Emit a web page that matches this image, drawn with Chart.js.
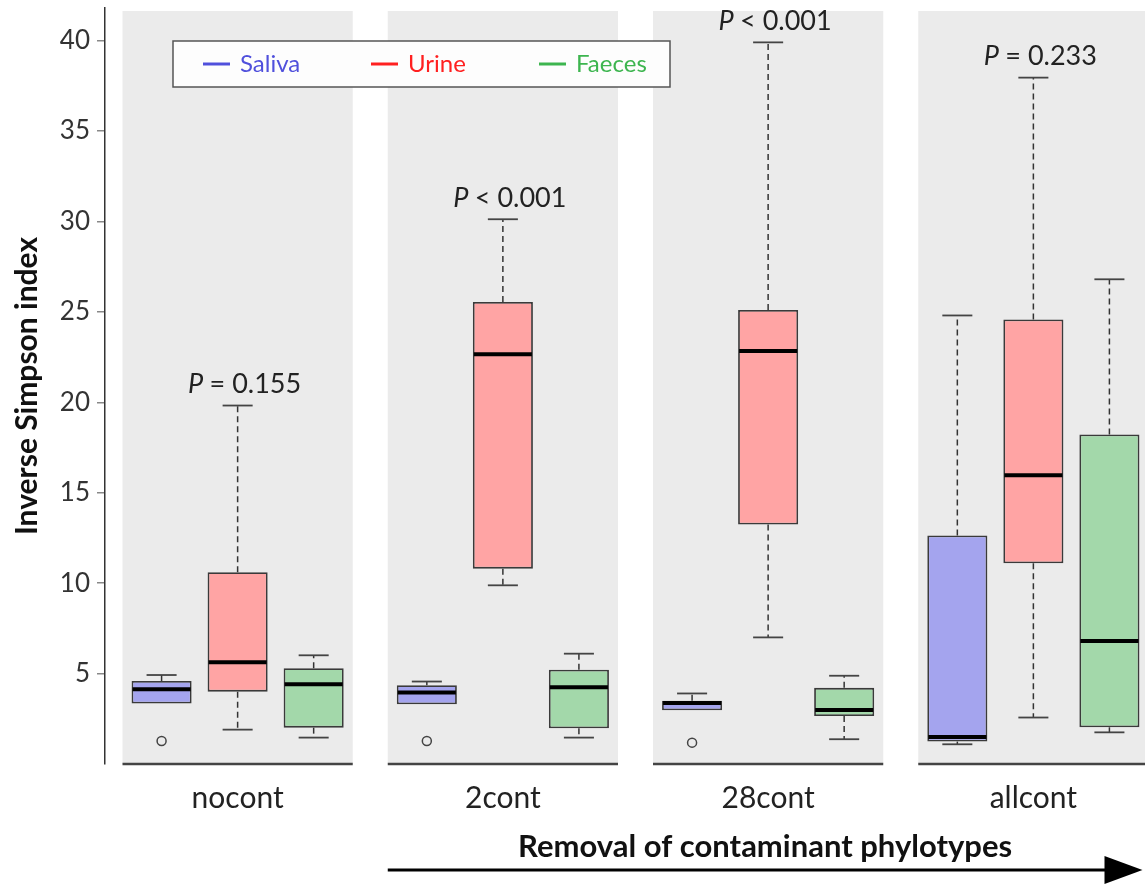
<!DOCTYPE html>
<html>
<head>
<meta charset="utf-8">
<script src="https://cdn.jsdelivr.net/npm/chart.js@4.4.0/dist/chart.umd.min.js"></script>
<style>
  html, body { margin: 0; padding: 0; background: #fff; overflow: hidden; }
  #wrap { position: absolute; left: 0; top: 0; width: 1166px; height: 886px; }
</style>
</head>
<body>
<div id="wrap"><canvas id="chart" width="1166" height="886"></canvas></div>
<script>
// categories and tick labels
const categories = ['nocont', '2cont', '28cont', 'allcont'];
const yTicks = [5, 10, 15, 20, 25, 30, 35, 40];
const pLabels = ['= 0.155', '< 0.001', '< 0.001', '= 0.233'];

// Saliva
const salivaMin = [3.34, 3.3, 2.97, 1.09];
const salivaQ1 = [3.34, 3.3, 2.97, 1.24];
const salivaMed = [4.13, 3.95, 3.37, 1.49];
const salivaQ3 = [4.59, 4.36, 3.5, 12.63];
const salivaMax = [4.92, 4.56, 3.9, 24.8];
const salivaOut = [1.27, 1.27, 1.18, null];

// Urine
const urineMin = [1.9, 9.88, 7.0, 2.57];
const urineQ1 = [4.0, 10.8, 13.24, 11.1];
const urineMed = [5.62, 22.65, 22.84, 15.97];
const urineQ3 = [10.6, 25.55, 25.1, 24.58];
const urineMax = [19.82, 30.12, 39.9, 37.95];
const urineOut = [null, null, null, null];

// Faeces
const faecesMin = [1.46, 1.46, 1.37, 1.75];
const faecesQ1 = [2.01, 1.98, 2.65, 2.03];
const faecesMed = [4.41, 4.25, 2.98, 6.8];
const faecesQ3 = [5.29, 5.21, 4.21, 18.22];
const faecesMax = [6.01, 6.1, 4.88, 26.8];
const faecesOut = [null, null, null, null];

const FONT = 'Lato, "Open Sans", sans-serif';

function boxSet(label, fill, key, mins, q1, med, q3, maxs, outs) {
  return {
    label: label,
    data: q1.map((v, i) => [v, q3[i]]),
    backgroundColor: fill,
    borderColor: '#3a3a3a',
    borderWidth: 1.8,
    borderSkipped: false,
    keyColor: key,
    whiskerMin: mins,
    median: med,
    whiskerMax: maxs,
    outliers: outs,
    q1: q1,
    q3: q3
  };
}

function line(ctx, x1, y1, x2, y2) {
  ctx.beginPath();
  ctx.moveTo(x1, y1);
  ctx.lineTo(x2, y2);
  ctx.stroke();
}

const boxPlugin = {
  id: 'boxDecor',
  beforeDatasetsDraw(chart) {
    const {ctx, chartArea, scales: {x, y}} = chart;
    const half = x.width / categories.length * 0.434;
    ctx.save();
    // grey panels
    categories.forEach((c, i) => {
      const cx = x.getPixelForValue(i);
      ctx.fillStyle = '#ebebeb';
      ctx.fillRect(cx - half, chartArea.top + 3, half * 2, chartArea.bottom - chartArea.top - 3);
      ctx.strokeStyle = '#444';
      ctx.lineWidth = 2.5;
      line(ctx, cx - half, chartArea.bottom, cx + half, chartArea.bottom);
    });
    // whiskers
    chart.data.datasets.forEach((ds, di) => {
      const meta = chart.getDatasetMeta(di);
      meta.data.forEach((bar, i) => {
        const w = bar.width;
        const top = y.getPixelForValue(ds.q3[i]);
        const bot = y.getPixelForValue(ds.q1[i]);
        const pMax = y.getPixelForValue(ds.whiskerMax[i]);
        const pMin = y.getPixelForValue(ds.whiskerMin[i]);
        ctx.strokeStyle = '#333';
        ctx.lineWidth = 1.5;
        ctx.setLineDash([6, 4]);
        if (pMax < top) line(ctx, bar.x, top, bar.x, pMax);
        if (pMin > bot) line(ctx, bar.x, bot, bar.x, pMin);
        ctx.setLineDash([]);
        ctx.strokeStyle = '#444';
        ctx.lineWidth = 1.8;
        if (pMax < top) line(ctx, bar.x - w / 4, pMax, bar.x + w / 4, pMax);
        if (pMin > bot) line(ctx, bar.x - w / 4, pMin, bar.x + w / 4, pMin);
      });
    });
    ctx.restore();
  },
  afterDatasetsDraw(chart) {
    const {ctx, chartArea, scales: {x, y}} = chart;
    const half = x.width / categories.length * 0.434;
    ctx.save();
    // medians and outliers
    chart.data.datasets.forEach((ds, di) => {
      const meta = chart.getDatasetMeta(di);
      meta.data.forEach((bar, i) => {
        const w = bar.width;
        ctx.strokeStyle = '#000';
        ctx.lineWidth = 4;
        const pm = y.getPixelForValue(ds.median[i]);
        line(ctx, bar.x - w / 2 + 1, pm, bar.x + w / 2 - 1, pm);
        if (ds.outliers[i] != null) {
          ctx.strokeStyle = '#444';
          ctx.lineWidth = 1.5;
          ctx.beginPath();
          ctx.arc(bar.x, y.getPixelForValue(ds.outliers[i]), 4.5, 0, Math.PI * 2);
          ctx.stroke();
        }
      });
    });
    // P values above urine whiskers
    ctx.fillStyle = '#222';
    ctx.textBaseline = 'middle';
    ctx.textAlign = 'left';
    pLabels.forEach((t, i) => {
      const cx = x.getPixelForValue(i) + 7;
      const py = y.getPixelForValue(urineMax[i]) - 21;
      ctx.font = 'italic 27px ' + FONT;
      const wp = ctx.measureText('P ').width;
      ctx.font = '27px ' + FONT;
      const wr = ctx.measureText(t).width;
      const sx = cx - (wp + wr) / 2;
      ctx.font = 'italic 27px ' + FONT;
      ctx.fillText('P ', sx, py);
      ctx.font = '27px ' + FONT;
      ctx.fillText(t, sx + wp, py);
    });
    // legend box
    const lx = chartArea.left + 68, ly = 41, lw = 497, lh = 46;
    ctx.fillStyle = '#fdfdfd';
    ctx.fillRect(lx, ly, lw, lh);
    ctx.strokeStyle = '#555';
    ctx.lineWidth = 1.5;
    ctx.strokeRect(lx, ly, lw, lh);
    ctx.font = '24px ' + FONT;
    chart.data.datasets.forEach((ds, di) => {
      const ix = lx + 30 + di * 168;
      const iy = ly + lh / 2;
      ctx.strokeStyle = ds.keyColor;
      ctx.lineWidth = 3;
      line(ctx, ix, iy, ix + 27, iy);
      ctx.fillStyle = ds.keyColor;
      ctx.fillText(ds.label, ix + 37, iy);
    });
    // arrow with axis caption
    const ax0 = x.getPixelForValue(1) - half;
    const ax1 = x.getPixelForValue(3) + half - 6;
    const ay = 870;
    ctx.strokeStyle = '#000';
    ctx.fillStyle = '#000';
    ctx.lineWidth = 3;
    line(ctx, ax0, ay, ax1 - 30, ay);
    ctx.beginPath();
    ctx.moveTo(ax1, ay);
    ctx.lineTo(ax1 - 38, ay - 14);
    ctx.lineTo(ax1 - 38, ay + 14);
    ctx.closePath();
    ctx.fill();
    ctx.font = 'bold 31px ' + FONT;
    ctx.textAlign = 'center';
    ctx.fillStyle = '#111';
    ctx.fillText('Removal of contaminant phylotypes', (ax0 + ax1) / 2, 847);
    ctx.restore();
  }
};

new Chart(document.getElementById('chart').getContext('2d'), {
  type: 'bar',
  data: {
    labels: categories,
    datasets: [
      boxSet('Saliva', '#a4a4ee', '#5050dc', salivaMin, salivaQ1, salivaMed, salivaQ3, salivaMax, salivaOut),
      boxSet('Urine', '#ffa4a4', '#ff2020', urineMin, urineQ1, urineMed, urineQ3, urineMax, urineOut),
      boxSet('Faeces', '#a3d8aa', '#3db54f', faecesMin, faecesQ1, faecesMed, faecesQ3, faecesMax, faecesOut)
    ]
  },
  options: {
    responsive: false,
    animation: false,
    layout: { padding: { top: 8, left: 0, right: 0, bottom: 0 } },
    categoryPercentage: 0.86,
    barPercentage: 0.79,
    plugins: {
      legend: { display: false },
      tooltip: { enabled: false }
    },
    scales: {
      x: {
        grid: { display: false, drawTicks: false },
        border: { display: false },
        ticks: { color: '#222', font: { family: FONT, size: 30 }, padding: 16 },
        afterFit(scale) { scale.height = 122; }
      },
      y: {
        min: 0,
        max: 41.8,
        afterBuildTicks(scale) { scale.ticks = yTicks.map(v => ({ value: v })); },
        grid: { drawOnChartArea: false, drawTicks: true, tickLength: 8, color: '#888', lineWidth: 1.5 },
        border: { display: true, color: '#333', width: 1.5 },
        ticks: { color: '#333', font: { family: FONT, size: 26 }, padding: 7 },
        title: {
          display: true,
          text: 'Inverse Simpson index',
          color: '#111',
          font: { family: FONT, size: 30, weight: 'bold' },
          padding: { top: 9, bottom: 0 }
        },
        afterFit(scale) {
          scale.width = 105;
          scale.paddingTop = 0;
          scale.paddingBottom = 0;
        }
      }
    }
  },
  plugins: [boxPlugin]
});
</script>
</body>
</html>
